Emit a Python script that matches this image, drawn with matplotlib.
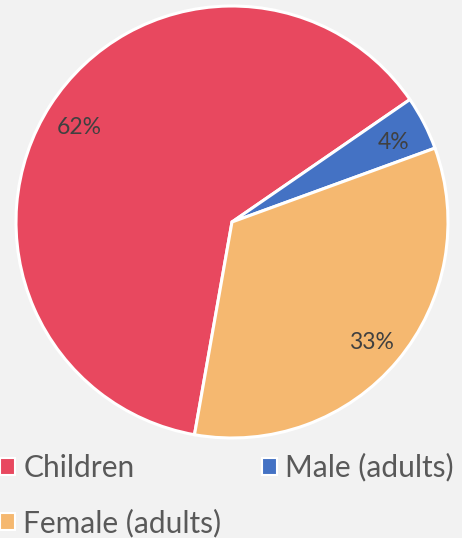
import matplotlib
matplotlib.use("Agg")
import matplotlib.pyplot as plt
from matplotlib.patches import Patch
import numpy as np

categories = ["Children", "Male (adults)", "Female (adults)"]
shares = [62, 4, 33]
colors = ["#E8485F", "#4472C4", "#F5B870"]

plt.rcParams["font.family"] = ["Lato", "DejaVu Sans"]

W, H = 462, 538
fig = plt.figure(figsize=(W / 100, H / 100), dpi=100)
fig.patch.set_facecolor("#F2F2F2")

cx, cy, r = 232, 222, 216
ax = fig.add_axes([(cx - r) / W, (H - cy - r) / H, 2 * r / W, 2 * r / H])
ax.set_facecolor("#F2F2F2")

wedges, _ = ax.pie(
    shares, colors=colors, startangle=-100, counterclock=False,
    radius=1.0, wedgeprops=dict(edgecolor="white", linewidth=2.2),
)

# percentage labels placed near the outer edge of each slice
for w, v in zip(wedges, shares):
    mid = np.deg2rad((w.theta1 + w.theta2) / 2)
    ax.text(0.84 * np.cos(mid), 0.84 * np.sin(mid) - 0.016, f"{v}%",
            ha="center", va="center", fontsize=16.5, color="#404040")
ax.set_xlim(-1, 1)
ax.set_ylim(-1, 1)

handles = [Patch(facecolor=c, edgecolor="white", linewidth=1.5) for c in colors]
order = [0, 2, 1]
leg = fig.legend([handles[i] for i in order], [categories[i] for i in order],
                 ncol=2, loc="upper left", bbox_to_anchor=(0.0, 0.158),
                 frameon=False, fontsize=21.5, labelcolor="#595959",
                 borderpad=0, borderaxespad=0,
                 handlelength=0.5, handleheight=0.5, handletextpad=0.28,
                 columnspacing=1.35, labelspacing=0.9)

fig.savefig("out.png", dpi=100, facecolor=fig.get_facecolor())
